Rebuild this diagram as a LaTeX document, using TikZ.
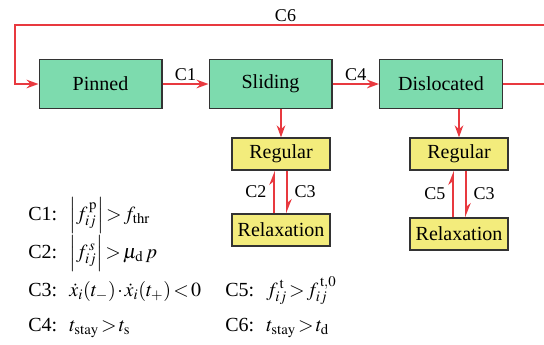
\documentclass[tikz,border=0pt]{standalone}
\usepackage{mathptmx}
\usepackage[no-math]{fontspec}
\setmainfont{Liberation Serif}
\usepackage{amsmath}
\usepackage{xcolor}
\usepackage{tikz}
\usetikzlibrary{arrows.meta,calc}
\definecolor{mint}{HTML}{7DDBAE}
\definecolor{lemon}{HTML}{F3EC7C}
\definecolor{rim}{HTML}{333333}
\definecolor{flow}{HTML}{E8393F}
\thickmuskip=2mu plus 1mu
\medmuskip=1.5mu

\begin{document}
\begin{tikzpicture}[x=0.75pt,y=-0.75pt,>=Stealth,font=\fontsize{15}{18}\selectfont,
  state/.style={draw=rim,line width=1pt,fill=mint,minimum width=92pt,minimum height=36.5pt,inner sep=0pt},
  sub/.style={draw=rim,line width=1pt,fill=lemon,minimum width=73.5pt,minimum height=24pt,inner sep=0pt},
  link/.style={flow,line width=1.3pt,-{Stealth[length=9pt,width=6.5pt]}},
  hlink/.style={flow,line width=1.3pt,-{Stealth[harpoon,length=9pt,width=7pt]}},
  tag/.style={black,font=\fontsize{13.5}{16}\selectfont,inner sep=2pt},
  cond/.style={anchor=base west,inner sep=0pt}]
\useasboundingbox (0,0) rectangle (544,344);
% top row
\node[state] (pin) at (100.5,84) {Pinned};
\node[state] (sli) at (270.5,84) {Sliding};
\node[state] (dis) at (441,84) {Dislocated};
\draw[link] (pin) -- node[tag,above] {C1} (sli);
\draw[link] (sli) -- node[tag,above] {C4} (dis);
% back to pinned
\coordinate (loopR) at (556,25);
\coordinate (loopL) at (15,25);
\draw[link] (dis.east) -| (loopR) -- node[tag,above,pos=0.5] {C6} (loopL) |- (pin.west);
% sliding: regular / relaxation
\node[sub] (reg1) at (281,154) {Regular};
\node[sub] (rlx1) at (281,230) {Relaxation};
\draw[link] (reg1.north |- sli.south) -- (reg1.north);
\draw[hlink] ($(rlx1.north)+(-7,0)$) -- node[tag,left,inner sep=5pt] {C2} ($(reg1.south)+(-7,0)$);
\draw[hlink] ($(reg1.south)+(6,0)$) -- node[tag,right,inner sep=5pt] {C3} ($(rlx1.north)+(6,0)$);
% dislocated: regular / relaxation
\node[sub] (reg2) at (459,154) {Regular};
\node[sub] (rlx2) at (459,234) {Relaxation};
\draw[link] (reg2.north |- dis.south) -- (reg2.north);
\draw[hlink] ($(rlx2.north)+(-6,0)$) -- node[tag,left,inner sep=5pt] {C5} ($(reg2.south)+(-6,0)$);
\draw[hlink] ($(reg2.south)+(7,0)$) -- node[tag,right,inner sep=5pt] {C3} ($(rlx2.north)+(7,0)$);
% conditions
\node[cond] (c1) at (28,220) {C1:\; $\left|f_{ij}^{\,\mathrm{p}}\right| > f_{\mathrm{thr}}$};
\node[cond] (c2) at (28,258) {C2:\; $\left|f_{ij}^{\,s}\right| > \mu_{\mathrm{d}}\,p$};
\node[cond] (c3) at (28,296) {C3:\; $\dot{x}_i(t_-)\cdot\dot{x}_i(t_+)<0$};
\node[cond] (c4) at (28,331) {C4:\; $t_{\mathrm{stay}} > t_{\mathrm{s}}$};
\node[cond] (c5) at (225,296) {C5:\; $f_{ij}^{\,\mathrm{t}} > f_{ij}^{\,\mathrm{t},0}$};
\node[cond] (c6) at (225,331) {C6:\; $t_{\mathrm{stay}} > t_{\mathrm{d}}$};
\end{tikzpicture}
\end{document}
